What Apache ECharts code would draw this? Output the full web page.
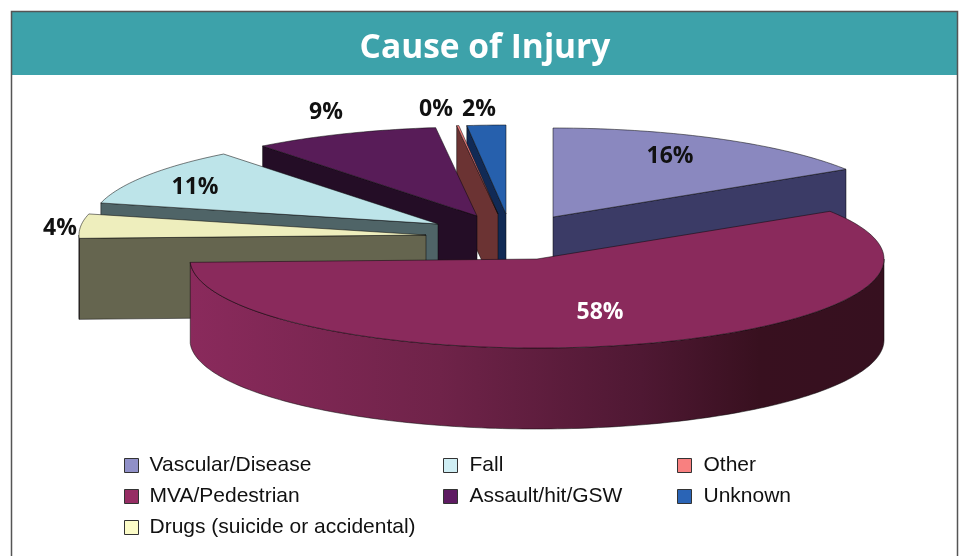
<!DOCTYPE html>
<html>
<head>
<meta charset="utf-8">
<style>html,body{margin:0;padding:0;background:#fff}#c{width:961px;height:556px}</style>
<script src="https://cdn.jsdelivr.net/npm/echarts@6/dist/echarts.min.js"></script>
</head>
<body>
<div id="c"></div>
<script>
// Data (pie order, clockwise from 12 o'clock)
var categories = ['Vascular/Disease','MVA/Pedestrian','Drugs (suicide or accidental)','Fall','Assault/hit/GSW','Other','Unknown'];
var values = [16, 58.4, 4.4, 10.6, 8.7, 0.1, 1.8];
var titleText = 'Cause of Injury';

// Styles
var topColors = ['#8a88bf','#8a2a5c','#eeeebd','#bde4e9','#581c58','#f88080','#2660ad'];
var legendColors = ['#9090c8','#962d64','#fcfcc8','#cfeef4','#5e1b62','#f88080','#2a64b6'];
var faceColors = ['#3b3b66','#36101f','#65654f','#4f6467','#240d26','#6b3333','#112a55'];
var labelColors = ['#111','#fff','#111','#111','#111','#111','#111'];

// Layout of the tilted, exploded pie
var pie = {cx:510, cy:236, rx:347, ry:89, depth:81};
var explode = [[43,-19],[27,23],[-84,-1],[-72,-12],[-33,-20],[-12,-22],[-4,-22]];
var labelShift = [[160,-80],[90,76],[-450,-8],[-315,-49],[-184,-124],[-74,-127],[-31,-127]];
var drawOrder = [0,6,5,4,3,2,1];
var legendColumns = [[0,1,2],[3,4],[5,6]];
var legendLeft = [119,438,672];

var total = values.reduce(function(a,b){return a+b;},0);
var starts = [], acc = 0;
values.forEach(function(v){starts.push(acc); acc += v;});
function ang(u){return u/total*Math.PI*2;}
function rim(ax,ay,t){return [ax+pie.rx*Math.sin(t), ay-pie.ry*Math.cos(t)];}
function arcPts(ax,ay,a,b){
  var n=Math.max(2,Math.ceil(Math.abs(b-a)/0.02)),p=[];
  for(var i=0;i<=n;i++){p.push(rim(ax,ay,a+(b-a)*i/n));}
  return p;
}
var edge = {stroke:'rgba(10,10,10,0.75)', lineWidth:0.7};
function style(fill){return {fill:fill, stroke:edge.stroke, lineWidth:edge.lineWidth};}
function down(p){return [p[0],p[1]+pie.depth];}

function makeRender(i){
  return function(params, api){
    var val = api.value(0);
    var a = ang(starts[i]), b = ang(starts[i]+val);
    var ax = pie.cx+explode[i][0], ay = pie.cy+explode[i][1];
    var apex=[ax,ay], kids=[];
    var pS=rim(ax,ay,a), pE=rim(ax,ay,b);
    function radialFace(p){
      kids.push({type:'polygon',shape:{points:[apex,p,down(p),down(apex)]},style:style(faceColors[i])});
    }
    if(a>Math.PI && a<2*Math.PI){radialFace(pS);}
    if(b>0 && b<Math.PI){radialFace(pE);}
    var s0=Math.max(a,Math.PI/2), s1=Math.min(b,Math.PI*1.5);
    if(s1>s0){
      var up=arcPts(ax,ay,s0,s1);
      var low=up.slice().reverse().map(down);
      kids.push({type:'polygon',shape:{points:up.concat(low)},style:{
        fill:{type:'linear',x:0,y:0,x2:1,y2:0,colorStops:[
          {offset:0,color:'#8a2a5c'},{offset:0.36,color:'#6f2349'},{offset:0.65,color:'#4f1833'},
          {offset:0.82,color:'#38101f'},{offset:1,color:'#36101f'}]},
        stroke:edge.stroke,lineWidth:edge.lineWidth}});
    }
    kids.push({type:'polygon',shape:{points:[apex].concat(arcPts(ax,ay,a,b))},style:style(topColors[i])});
    kids.push({type:'text',style:{
      text:Math.round(val/total*100)+'%',
      x:pie.cx+labelShift[i][0], y:pie.cy+labelShift[i][1],
      fill:labelColors[i], font:'bold 23px "Open Sans"', align:'center', verticalAlign:'middle'},z2:10});
    return {type:'group',children:kids};
  };
}

var series = drawOrder.map(function(i){
  return {type:'custom',name:categories[i],coordinateSystem:'none',silent:true,
    itemStyle:{color:legendColors[i]},
    renderItem:makeRender(i),data:[[values[i]]],animation:false};
});

var legends = legendColumns.map(function(col,k){
  return {orient:'vertical',left:legendLeft[k],top:450,itemWidth:14,itemHeight:14,itemGap:10,
    icon:'rect',selectedMode:false,
    itemStyle:{borderColor:'#333',borderWidth:1},
    textStyle:{fontFamily:'"Liberation Sans"',fontSize:21,color:'#111',padding:[0,0,0,k?7:6]},
    data:col.map(function(i){return categories[i];})};
});

var chart = echarts.init(document.getElementById('c'),null,{renderer:'canvas'});
chart.setOption({
  backgroundColor:'#fff',animation:false,
  title:{text:titleText,left:480,top:26,textAlign:'center',
    textStyle:{color:'#fff',fontFamily:'"Open Sans"',fontWeight:'bold',fontSize:33.5}},
  legend:legends,
  graphic:[
    {type:'rect',z:-1,shape:{x:12,y:12,width:945,height:63},style:{fill:'#3da2aa'}},
    {type:'rect',z:-1,shape:{x:11.5,y:11.5,width:946,height:560},style:{fill:'none',stroke:'#555',lineWidth:1.5}}
  ],
  series:series
});
</script>
</body>
</html>
